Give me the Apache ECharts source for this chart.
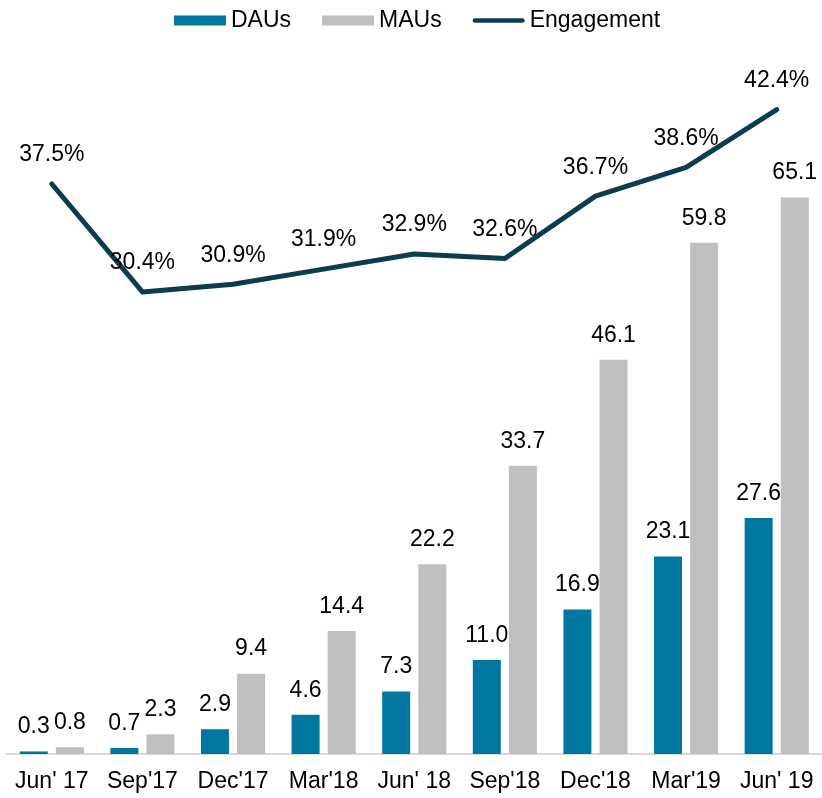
<!DOCTYPE html>
<html>
<head>
<meta charset="utf-8">
<script src="https://cdn.jsdelivr.net/npm/echarts@6/dist/echarts.min.js"></script>
<style>html,body{margin:0;padding:0;background:#fff}#c{width:822px;height:798px}</style>
</head>
<body>
<div id="c"></div>
<script>
const categories = ["Jun' 17", "Sep'17", "Dec'17", "Mar'18", "Jun' 18", "Sep'18", "Dec'18", "Mar'19", "Jun' 19"];
const daus = [0.3, 0.7, 2.9, 4.6, 7.3, 11.0, 16.9, 23.1, 27.6];
const maus = [0.8, 2.3, 9.4, 14.4, 22.2, 33.7, 46.1, 59.8, 65.1];
const engagement = [37.5, 30.4, 30.9, 31.9, 32.9, 32.6, 36.7, 38.6, 42.4];

const FONT = '"Liberation Sans", Arial, sans-serif';
const LINE_ICON = 'path://M0,0L0,0M2.5,2.5L54.5,2.5A2.5,2.5 0 0 1 54.5,7.5L2.5,7.5A2.5,2.5 0 0 1 2.5,2.5ZM57,10L57,10';
const chart = echarts.init(document.getElementById('c'), null, {renderer: 'canvas'});
chart.setOption({
  animation: false,
  textStyle: {fontFamily: FONT},
  legend: {
    top: 4,
    left: 169,
    itemWidth: 52,
    itemHeight: 10,
    itemGap: 31,
    textStyle: {fontSize: 23, color: '#000', fontFamily: FONT},
    data: [
      {name: 'DAUs', icon: 'rect'},
      {name: 'MAUs', icon: 'rect'},
      {name: 'Engagement', icon: LINE_ICON}
    ]
  },
  grid: {left: 6.5, right: -4, top: 70, bottom: 44, containLabel: false},
  xAxis: {
    type: 'category',
    data: categories,
    axisLine: {lineStyle: {color: '#d9d9d9', width: 2}},
    axisTick: {show: false},
    axisLabel: {fontSize: 23, color: '#000', fontFamily: FONT, margin: 16, interval: 0}
  },
  yAxis: [
    {type: 'value', min: 0, max: 80, show: false, splitLine: {show: false}},
    {type: 'value', min: 0, max: 45, show: false, splitLine: {show: false}}
  ],
  series: [
    {
      name: 'DAUs', type: 'bar', data: daus, barWidth: 28, barGap: '29%',
      itemStyle: {color: '#0077a0'},
      label: {show: true, position: 'top', distance: 13, fontSize: 23, color: '#000', fontFamily: FONT,
        formatter: p => p.value.toFixed(1)}
    },
    {
      name: 'MAUs', type: 'bar', data: maus, barWidth: 28,
      itemStyle: {color: '#bfbfbf'},
      label: {show: true, position: 'top', distance: 13, fontSize: 23, color: '#000', fontFamily: FONT,
        formatter: p => p.value.toFixed(1)}
    },
    {
      name: 'Engagement', type: 'line', yAxisIndex: 1, data: engagement,
      symbol: 'circle', symbolSize: 1, showSymbol: true,
      lineStyle: {color: '#0c3c50', width: 5, cap: 'round', join: 'round'},
      itemStyle: {color: '#0c3c50'},
      label: {show: true, position: 'top', distance: 17, fontSize: 23, color: '#000', fontFamily: FONT,
        formatter: p => p.value.toFixed(1) + '%'},
      z: 5
    }
  ]
});
</script>
</body>
</html>
